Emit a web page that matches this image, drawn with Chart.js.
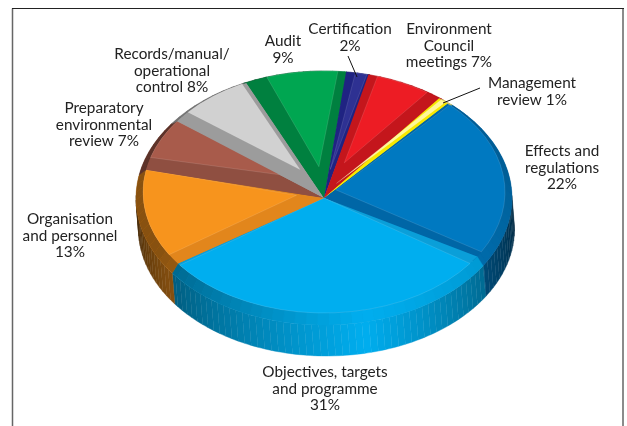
<!DOCTYPE html>
<html>
<head>
<meta charset="utf-8">
<title>Share of EMS effort by element</title>
<style>
  html, body { margin: 0; padding: 0; background: #fff; }
  canvas { display: block; }
</style>
<script src="https://cdn.jsdelivr.net/npm/chart.js@4"></script>
</head>
<body>
<canvas id="pie" width="627" height="426"></canvas>
<script>
// Slice data, clockwise from the first slice
const categories = ["Effects and regulations", "Objectives, targets and programme", "Organisation and personnel",
  "Preparatory environmental review", "Records/manual/operational control", "Audit", "Certification",
  "Environment Council meetings", "Management review"];
const shares = [22, 31, 13, 7, 8, 9, 2, 7, 1];
// Wrapped label text; the final entry prefixes the percentage on the last line
const labelStems = [["Effects and", "regulations", ""], ["Objectives, targets", "and programme", ""],
  ["Organisation", "and personnel", ""], ["Preparatory", "environmental", "review "],
  ["Records/manual/", "operational", "control "], ["Audit", ""], ["Certification", ""],
  ["Environment", "Council", "meetings "], ["Management", "review "]];

// Styling
const faceColors = ["#0079C1", "#00AEEF", "#F7941D", "#A85B4B", "#D1D1D1", "#00A651", "#2E3192", "#ED1C24", "#FFF799"];
const edgeColors = ["#0066A6", "#0A9FD9", "#E2861C", "#8F4F41", "#9C9C9C", "#00803F", "#1F2382", "#C4161C", "#F7E800"];
// Bevel of each slice: degrees trimmed from each side of the face,
// how far its tip moves out along the slice, and how far it lifts up the page
const bevels = [[1, 2.6, 0.065, 7], [4, 1, 0, 0], [5, 0, 0.15, 7], [6, 0, 0.2, 12], [5.5, 1.5, 0.2, 9],
  [7, 2.6, 0.17, 10], [3, 0.5, 0.18, 6], [3, 4.7, 0.24, 8], [0.9, 0.9, 0.1, 5]];
const labelAnchors = [[562, 151], [325, 372], [70, 219], [104, 108], [172, 54], [283, 41], [350, 29], [449, 29], [532, 83]];
const leaders = [[[348, 56], [357, 77]], [[480, 88], [443, 103]]];

const HUB_Y = 198, TILT = 127 / 188, WALL = 31, WALL_SKEW = 2.5;
const FACE = { rx: 181 / 188, ry: 121 / 127, lift: 6 };
const LINE_H = 16.6;
const FACET = 2.2 * Math.PI / 180;

function rgb(hex) { return [1, 3, 5].map(i => parseInt(hex.substr(i, 2), 16)); }
function shade(hex, f) { return "rgb(" + rgb(hex).map(c => Math.round(c * f)).join(",") + ")"; }
// Clockwise degrees from twelve o'clock, wrapped to 0..360
function clockDeg(a) { return ((a * 180 / Math.PI + 90) % 360 + 360) % 360; }

function wallLight(a) {
  const t = clockDeg(a);
  const slope = t >= 168 ? 0.007 : 0.0085;
  const d = Math.abs(t - 168);
  return Math.max(0.25, 1 - slope * Math.min(d, 360 - d));
}
function rimLight(a) {
  const t = clockDeg(a);
  if (t >= 168) return Math.max(0.55, 1 - 0.006 * (t - 168));
  return Math.max(0.78, 1 - 0.0025 * (168 - t));
}

const tiltedPie = {
  id: "tiltedPie",
  beforeDatasetsDraw(chart) {
    const ctx = chart.ctx, arcs = chart.getDatasetMeta(0).data;
    const { x, outerRadius: r } = arcs[0];
    const rx = r, ry = r * TILT;
    // Outer wall: narrow facets along the front half of the rim
    arcs.forEach((arc, i) => {
      const from = Math.max(arc.startAngle, -0.02), to = Math.min(arc.endAngle, Math.PI + 0.02);
      for (let a = from; a < to; a += FACET) {
        const b = Math.min(a + FACET, to), m = (a + b) / 2;
        ctx.beginPath();
        ctx.ellipse(x, HUB_Y, rx, ry, 0, a, b);
        ctx.lineTo(x + WALL_SKEW + rx * Math.cos(b), HUB_Y + ry * Math.sin(b) + WALL);
        ctx.ellipse(x + WALL_SKEW, HUB_Y + WALL, rx, ry, 0, b, a, true);
        ctx.closePath();
        ctx.fillStyle = shade(faceColors[i], wallLight(m));
        ctx.strokeStyle = ctx.fillStyle;
        ctx.lineWidth = 0.4;
        ctx.fill();
        ctx.stroke();
      }
    });
    // The library's own arcs become the tilted disc
    ctx.save();
    ctx.translate(x, HUB_Y);
    ctx.scale(1, TILT);
    ctx.translate(-x, -arcs[0].y);
  },
  afterDatasetsDraw(chart) {
    const ctx = chart.ctx, arcs = chart.getDatasetMeta(0).data;
    ctx.restore();
    const { x, outerRadius: r } = arcs[0];
    const rx = r, ry = r * TILT, fx = rx * FACE.rx, fy = ry * FACE.ry, fc = HUB_Y - FACE.lift;
    arcs.forEach((arc, i) => {
      const [s, e, along, up] = bevels[i];
      // Rim band between the disc edge and the raised face
      for (let a = arc.startAngle; a < arc.endAngle - 1e-4; a += FACET * 1.6) {
        const b = Math.min(a + FACET * 1.6, arc.endAngle);
        ctx.beginPath();
        ctx.ellipse(x, HUB_Y, rx, ry, 0, a, b);
        ctx.ellipse(x, fc, fx, fy, 0, b, a, true);
        ctx.closePath();
        ctx.fillStyle = shade(faceColors[i], rimLight((a + b) / 2));
        ctx.strokeStyle = ctx.fillStyle;
        ctx.lineWidth = 0.4;
        ctx.fill();
        ctx.stroke();
      }
      // Wedge strip, then the raised face with its tip pulled away from the hub
      const a0 = arc.startAngle + s * Math.PI / 180, a1 = arc.endAngle - e * Math.PI / 180;
      const m = (arc.startAngle + arc.endAngle) / 2;
      const tx = x + Math.cos(m) * along * rx, ty = HUB_Y + Math.sin(m) * along * ry - up;
      ctx.beginPath();
      ctx.moveTo(x, HUB_Y);
      ctx.ellipse(x, fc, fx, fy, 0, arc.startAngle, arc.endAngle);
      ctx.closePath();
      ctx.fillStyle = edgeColors[i];
      ctx.fill();
      ctx.beginPath();
      ctx.moveTo(tx, ty);
      ctx.ellipse(x, fc, fx, fy, 0, a0, a1);
      ctx.closePath();
      ctx.fillStyle = faceColors[i];
      ctx.fill();
      ctx.strokeStyle = "rgba(255,255,255,0.2)";
      ctx.lineWidth = 0.6;
      ctx.stroke();
    });

    // Leader lines for the two narrow slices
    ctx.strokeStyle = "#111";
    ctx.lineWidth = 1;
    leaders.forEach(([p, q]) => {
      ctx.beginPath();
      ctx.moveTo(p[0], p[1]);
      ctx.lineTo(q[0], q[1]);
      ctx.stroke();
    });

    // Slice labels
    ctx.fillStyle = "#222";
    ctx.font = '15.3px Lato, "Open Sans", sans-serif';
    ctx.textAlign = "center";
    ctx.textBaseline = "middle";
    labelStems.forEach((stem, i) => {
      stem.forEach((line, j) => {
        const text = j === stem.length - 1 ? line + shares[i] + "%" : line;
        ctx.fillText(text, labelAnchors[i][0], labelAnchors[i][1] + j * LINE_H);
      });
    });

    // Page frame, open at the bottom
    ctx.strokeStyle = "#666";
    ctx.lineWidth = 1.5;
    ctx.beginPath();
    ctx.moveTo(12.5, 426); ctx.lineTo(12.5, 8.5);
    ctx.moveTo(623, 8.5); ctx.lineTo(623, 426);
    ctx.stroke();
    ctx.strokeStyle = "#222";
    ctx.lineWidth = 1;
    ctx.beginPath();
    ctx.moveTo(12, 8.5); ctx.lineTo(624, 8.5);
    ctx.stroke();
  }
};

new Chart(document.getElementById("pie"), {
  type: "pie",
  data: {
    labels: categories,
    datasets: [{ data: shares, backgroundColor: edgeColors, borderWidth: 0, clip: false }]
  },
  options: {
    responsive: false,
    animation: false,
    events: [],
    rotation: 43,
    layout: { padding: { left: 136, right: 115, top: 25, bottom: 25 } },
    plugins: { legend: { display: false }, tooltip: { enabled: false } }
  },
  plugins: [tiltedPie]
});
</script>
</body>
</html>
